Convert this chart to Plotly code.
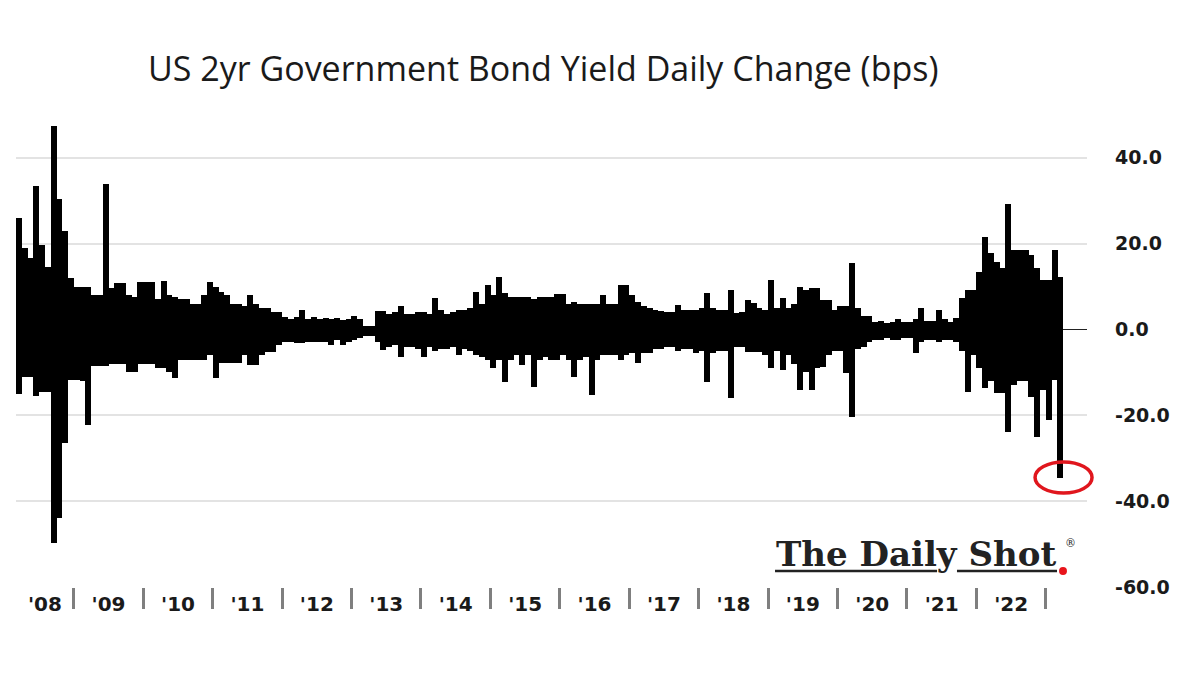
import plotly.graph_objects as go

# ---- data (monthly extremes of daily change, bps), starting Mar 2008 ----
start_year, start_month = 2008, 3
up_bps = (
    [26, 19, 16.6, 33.4, 19.7, 14.6, 47.4, 30.4, 23, 12] +                      # 2008 Mar-Dec
    [10, 10, 10, 8, 8, 34, 9.7, 10.8, 10.8, 8, 7.5, 11] +                      # 2009
    [11, 11, 7, 11.2, 8, 7.6, 7, 7, 6, 6, 8, 11] +                              # 2010
    [10, 8.7, 8, 6, 6, 5.5, 8, 6, 5, 5, 4, 4] +                                 # 2011
    [3, 2.5, 3, 4.5, 2.5, 2.8, 2.5, 2.7, 2.5, 2.7, 2.2, 2.5] +                  # 2012
    [3.2, 2.5, 0.8, 0.8, 4.3, 4.3, 3.5, 4, 5.5, 3.5, 3.5, 4] +                  # 2013
    [4, 3.5, 7.3, 4.5, 3.5, 4, 4.5, 4.5, 5, 8.7, 6, 10.4] +                     # 2014
    [8, 12.3, 8.5, 7.6, 7.6, 7.6, 7.6, 7, 7.6, 7.6, 7.6, 8.2] +                 # 2015
    [8.2, 6, 6.5, 6, 6, 6, 6, 8, 6, 6, 10.4, 10.4] +                            # 2016
    [8, 6.4, 5.5, 5, 4.5, 4.3, 4, 4, 5.7, 4.6, 4.5, 4.5] +                      # 2017
    [5, 8.5, 5, 4.5, 4.5, 9.2, 3.8, 4, 6.9, 6.1, 5, 4.5] +                      # 2018
    [11.6, 5, 7.3, 5, 6, 10, 9.2, 9.7, 9.7, 6.9, 6.9, 4.5] +                    # 2019
    [5.5, 5.5, 15.5, 5, 3.2, 3.2, 1.8, 2, 1.5, 1.8, 2.5, 1.8] +                 # 2020
    [1.8, 2.5, 5, 2, 2, 4.6, 2.5, 1.8, 2.7, 7.3, 9.2, 9.2] +                    # 2021
    [13.4, 21.6, 17.8, 15.8, 14.3, 29.3, 18.5, 18.5, 18.5, 17.4, 14.3, 11.6] +  # 2022
    [11.6, 18.5, 12.3]                                                          # 2023 Jan-Mar
)
down_bps = (
    [-15, -11, -11, -15.6, -14.5, -14.5, -49.8, -44, -26.4, -11.8] +
    [-11.8, -12, -22.2, -8.6, -8.6, -8.6, -8, -8, -8, -9.8, -9.8, -8.1] +
    [-8.1, -8.1, -9, -9, -10, -11.3, -7, -7, -7, -7, -7, -6] +
    [-11.3, -7.8, -7.8, -7.8, -7.8, -6, -8.2, -8.2, -6, -5.2, -5.2, -3.5] +
    [-2.9, -2.9, -3.2, -3.2, -3, -3, -3, -2.8, -3.6, -2.5, -3.6, -2.8] +
    [-2.5, -2, -1.5, -1.5, -3, -4.7, -4, -3.5, -6.3, -4, -4, -4.5] +
    [-6.3, -4, -5, -4.5, -4.5, -4, -5.9, -4.5, -5, -6, -6.5, -7] +
    [-9, -7, -12.2, -7, -6, -8.3, -6, -13.4, -7, -6.5, -7, -7] +
    [-6, -7, -11, -7, -6.5, -15.2, -7, -6, -6, -6, -7, -6] +
    [-5.5, -7.8, -5.5, -5.5, -4.5, -4.5, -4, -4, -5, -4.5, -4.5, -5.5] +
    [-5, -12.2, -5.5, -5, -5, -16, -4, -4, -5.2, -5.2, -5.2, -6] +
    [-9, -5, -9.4, -6, -8, -14, -10, -14, -9, -8.8, -6, -5] +
    [-5, -10.2, -20.4, -4.6, -4, -3, -2.4, -2.4, -2, -2.4, -2.5, -2] +
    [-2, -5.5, -3, -2.5, -2.5, -3, -2.5, -2.5, -3, -5, -14.5, -6] +
    [-9, -13.7, -12, -14.9, -14.9, -23.9, -13, -12, -12, -15.7, -25, -14] +
    [-21, -11.8, -34.6]
)
year_labels = ["'08", "'09", "'10", "'11", "'12", "'13", "'14", "'15",
               "'16", "'17", "'18", "'19", "'20", "'21", "'22"]
y_ticks = [-60, -40, -20, 0, 20, 40]
y_ticktext = ["-60.0", "-40.0", "-20.0", "0.0", "20.0", "40.0"]

# ---- x positions (fractional years, month centres) ----
x_vals = []
for i in range(len(up_bps)):
    m0 = start_month - 1 + i
    x_vals.append(start_year + m0 // 12 + (m0 % 12 + 0.5) / 12)

x_min = start_year + (start_month - 1) / 12
x_max = 2023.593
first_year = 2008
label_pos = [(x_min + 2009) / 2] + [first_year + k + 0.5 for k in range(1, len(year_labels))]
boundaries = [first_year + k for k in range(1, len(year_labels) + 1)]

fig = go.Figure()
bw = 1 / 12 * 1.04
fig.add_trace(go.Bar(x=x_vals, y=up_bps, width=bw, marker=dict(color="black", line=dict(width=0)),
                     showlegend=False, hoverinfo="skip"))
fig.add_trace(go.Bar(x=x_vals, y=down_bps, width=bw, marker=dict(color="black", line=dict(width=0)),
                     showlegend=False, hoverinfo="skip"))

fig.update_layout(
    width=1200, height=675,
    paper_bgcolor="white", plot_bgcolor="white",
    margin=dict(l=16, r=113, t=72, b=88),
    barmode="relative", bargap=0,
    showlegend=False,
    xaxis=dict(
        range=[x_min, x_max], showgrid=False, zeroline=False, showline=False,
        tickmode="array", tickvals=label_pos, ticktext=year_labels,
        ticks="outside", ticklen=0, tickcolor="rgba(0,0,0,0)",
        tickfont=dict(family="DejaVu Sans", size=20, color="#1a1a1a", weight="bold"),
        ticklabelstandoff=-1,
        minor=dict(tickmode="array", tickvals=boundaries, ticks="outside", ticklen=21,
                   tickwidth=2.5, tickcolor="#7f7f7f", showgrid=False),
    ),
    yaxis=dict(
        side="right", range=[-60, 60],
        tickmode="array", tickvals=y_ticks, ticktext=y_ticktext,
        showgrid=True, gridcolor="#e3e3e3", gridwidth=1.5,
        zeroline=True, zerolinecolor="#222222", zerolinewidth=1.2,
        showline=False, ticks="",
        tickfont=dict(family="DejaVu Sans", size=19, color="#1a1a1a", weight="bold"),
        ticklabelstandoff=27,
    ),
)

# title
fig.add_annotation(text="US 2yr Government Bond Yield Daily Change (bps)",
                   xref="paper", yref="paper", x=0.492, y=1.007, xanchor="center", yanchor="middle",
                   showarrow=False, font=dict(family="Open Sans", size=34, color="#1a1a1a"))

# logo
fig.add_annotation(text="The Daily Shot", xref="paper", yref="paper", x=0.840, y=0.064,
                   xanchor="center", yanchor="middle", showarrow=False,
                   font=dict(family="DejaVu Serif", size=34, color="#222222", weight="bold"))
fig.add_annotation(text="®", xref="paper", yref="paper", x=0.985, y=0.084,
                   xanchor="center", yanchor="middle", showarrow=False,
                   font=dict(family="DejaVu Serif", size=11, color="#222222"))
for x0, x1 in [(0.7087, 0.860), (0.8786, 0.972)]:
    fig.add_shape(type="line", xref="paper", yref="paper", x0=x0, x1=x1, y0=0.031, y1=0.031,
                  line=dict(color="#222222", width=2.5))
fig.add_shape(type="circle", xref="paper", yref="paper", x0=0.9739, x1=0.9813, y0=0.0233, y1=0.0388,
              fillcolor="#e8141b", line=dict(width=0))

# red highlight circle
fig.add_shape(type="circle", xref="paper", yref="paper", x0=0.9515, x1=1.0047, y0=0.1825, y1=0.2427,
              line=dict(color="#e0161d", width=3.5), fillcolor="rgba(0,0,0,0)")

fig.write_html("out.html")
